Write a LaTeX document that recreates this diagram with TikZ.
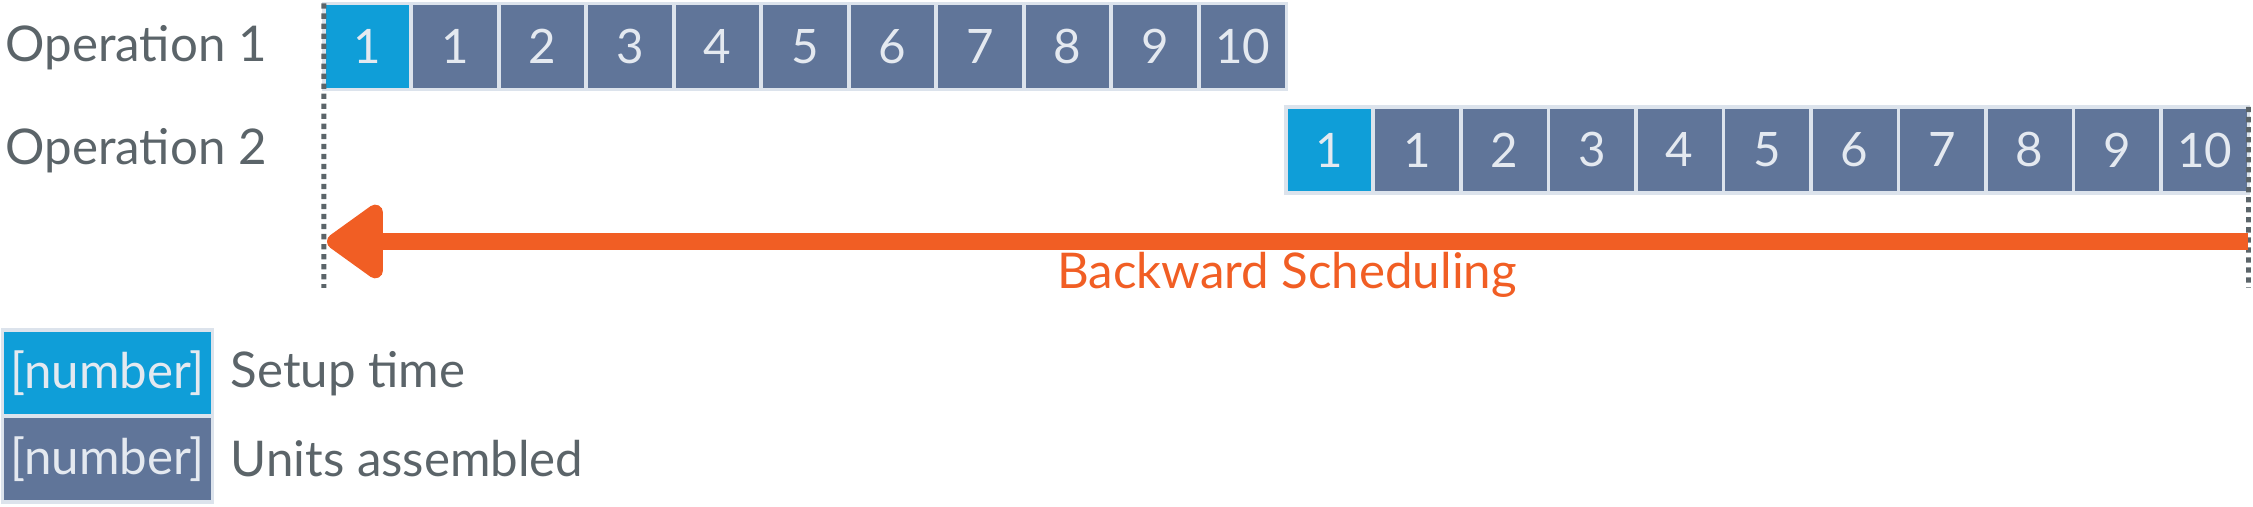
\documentclass[tikz,border=0pt]{standalone}
\usepackage{fontspec}
\setmainfont{Lato}
\usetikzlibrary{arrows.meta}
\definecolor{setup}{HTML}{0F9ED8}
\definecolor{unit}{HTML}{607599}
\definecolor{frame}{HTML}{DCE3EC}
\definecolor{label}{HTML}{5B6469}
\definecolor{sched}{HTML}{F15E24}
\definecolor{digit}{HTML}{E4E9F0}

\begin{document}
\begin{tikzpicture}[x=0.01cm,y=-0.01cm,
    cell/.style={draw=frame,line width=1.1pt,minimum width=0.875cm,minimum height=0.86cm,
      inner sep=0pt,outer sep=0pt,text=digit,font=\fontsize{13.5}{13.5}\selectfont},
    setupcell/.style={cell,fill=setup},
    unitcell/.style={cell,fill=unit},
    legcell/.style={minimum width=2.1cm,font=\fontsize{14}{14}\selectfont},
    lbl/.style={text=label,inner sep=0pt,anchor=base west,font=\fontsize{14}{14}\selectfont},
    guide/.style={draw=label,line width=1.4pt,dash pattern=on 1.5pt off 1.35pt}]
  \useasboundingbox (0,0) rectangle (2253,507);
  \node[lbl] (op1) at (5,62) {Operation 1};
  \node[lbl] (op2) at (5,165) {Operation 2};
  \node[setupcell] (o1s) at (367.7,46.5) {1};
  \foreach \i in {1,...,10}
    \node[unitcell] (o1c\i) at ({367.7+87.5*\i},46.5) {\i};
  \node[setupcell] (o2s) at (1329.7,150) {1};
  \foreach \i in {1,...,10}
    \node[unitcell] (o2c\i) at ({1329.7+87.5*\i},150) {\i};
  \coordinate (guideL) at (323.9,288);
  \coordinate (guideR) at (2248.5,288);
  \draw[guide] (o1s.north west) -- (guideL);
  \draw[guide] (o2c10.north east) -- (guideR);
  \coordinate (arrowStart) at (2248,241.5);
  \coordinate (arrowEnd) at (327,241.5);
  \draw[sched,line width=0.17cm,-{Triangle[length=0.62cm,width=0.84cm,round]}] (arrowStart) -- (arrowEnd);
  \node[lbl,anchor=base,text=sched] (back) at (1287,289) {Backward Scheduling};
  \node[setupcell,legcell] (legS) at (107.5,373) {[number]};
  \node[unitcell,legcell] (legU) at (107.5,459) {[number]};
  \node[lbl] (setup) at (230,388) {Setup time};
  \node[lbl] (units) at (230,477) {Units assembled};
\end{tikzpicture}
\end{document}
